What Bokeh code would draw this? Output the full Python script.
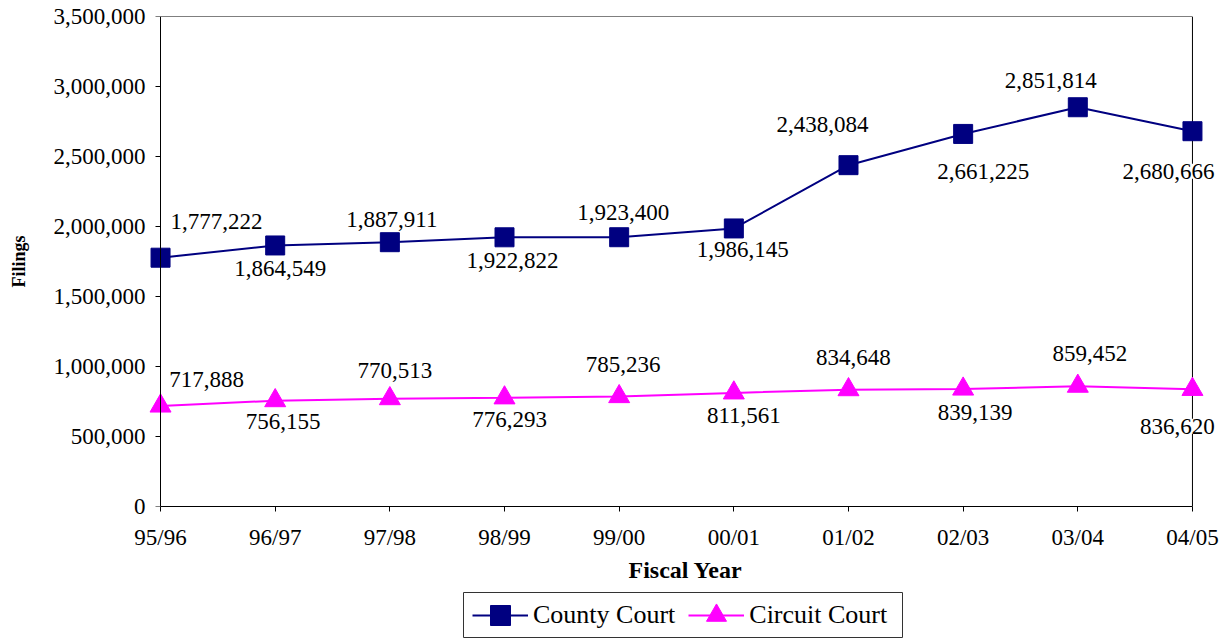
from bokeh.plotting import figure
from bokeh.models import (ColumnDataSource, Range1d, FixedTicker, NumeralTickFormatter,
                          LabelSet, Legend, LegendItem, LinearAxis, Span, Spacer)
from bokeh.layouts import column, row
from bokeh.embed import file_html
from bokeh.resources import INLINE

# ---- data ----
years = ["95/96", "96/97", "97/98", "98/99", "99/00", "00/01", "01/02", "02/03", "03/04", "04/05"]
county = [1777222, 1864549, 1887911, 1922822, 1923400, 1986145, 2438084, 2661225, 2851814, 2680666]
circuit = [717888, 756155, 770513, 776293, 785236, 811561, 834648, 839139, 859452, 836620]
y_ticks = [0, 500000, 1000000, 1500000, 2000000, 2500000, 3000000, 3500000]

# ---- label placement (screen px relative to the point; + is right / up) ----
county_dx = [56, 5, 2, 8, 4, 9, -26, 20, -27, -24]
county_dy = [36, -23, 23, -23, 25, -21, 41, -38, 27, -40]
circuit_dx = [46, 8, 5, 5, 4, 10, 5, 12, 12, -15]
circuit_dy = [26, -21, 28, -22, 32, -23, 32, -23, 33, -37]

SERIF = "Liberation Serif"
NAVY = "#000080"
MAGENTA = "#FF00FF"

idx = list(range(len(years)))
last = len(years) - 1
src_county = ColumnDataSource(dict(x=idx, y=county, lab=[f"{v:,}" for v in county],
                                   dx=county_dx, dy=county_dy))
src_circuit = ColumnDataSource(dict(x=idx, y=circuit, lab=[f"{v:,}" for v in circuit],
                                    dx=circuit_dx, dy=circuit_dy))

# frame is a little wider than the category span so edge markers / labels are not clipped
p = figure(width=1228, height=591, output_backend="svg", toolbar_location=None,
           x_range=Range1d(-0.105, last + 0.262), y_range=Range1d(0, y_ticks[-1]),
           min_border_left=148, min_border_right=6, min_border_top=16, min_border_bottom=85)
p.grid.visible = False
p.outline_line_color = None
p.background_fill_color = "white"
p.border_fill_color = "white"

# x axis (bottom)
p.xaxis.ticker = FixedTicker(ticks=idx)
p.xaxis.major_label_overrides = {i: y for i, y in enumerate(years)}
p.xaxis.bounds = (0, last)
p.xaxis.axis_line_color = "black"
p.xaxis.major_tick_line_color = "black"
p.xaxis.major_tick_in = 0
p.xaxis.major_tick_out = 5
p.xaxis.minor_tick_line_color = None
p.xaxis.major_label_text_font = SERIF
p.xaxis.major_label_text_font_size = "23px"
p.xaxis.major_label_text_color = "black"
p.xaxis.major_label_standoff = 13
p.xaxis.axis_label = "Fiscal Year"
p.xaxis.axis_label_text_font = SERIF
p.xaxis.axis_label_text_font_style = "bold"
p.xaxis.axis_label_text_font_size = "24px"
p.xaxis.axis_label_text_color = "black"
p.xaxis.axis_label_standoff = 4

# y axis labels (left panel, no line / ticks)
p.yaxis.ticker = FixedTicker(ticks=y_ticks)
p.yaxis.formatter = NumeralTickFormatter(format="0,0")
p.yaxis.axis_line_color = None
p.yaxis.major_tick_line_color = None
p.yaxis.major_tick_in = 0
p.yaxis.major_tick_out = 0
p.yaxis.minor_tick_line_color = None
p.yaxis.major_label_text_font = SERIF
p.yaxis.major_label_text_font_size = "23px"
p.yaxis.major_label_text_color = "black"
p.yaxis.major_label_standoff = 3
p.yaxis.axis_label = "Filings"
p.yaxis.axis_label_text_font = SERIF
p.yaxis.axis_label_text_font_style = "bold"
p.yaxis.axis_label_text_font_size = "18px"
p.yaxis.axis_label_text_color = "black"
p.yaxis.axis_label_standoff = 22

# y axis line + ticks at the first category
y_rule = LinearAxis(fixed_location=0, ticker=FixedTicker(ticks=y_ticks),
                    major_label_overrides={t: "" for t in y_ticks},
                    major_label_text_font_size="0px", major_label_standoff=0,
                    axis_line_color="black", axis_line_width=1,
                    major_tick_line_color="black", major_tick_in=5, major_tick_out=0,
                    minor_tick_line_color=None)
p.add_layout(y_rule, "right")

# top and right frame lines
top_ax = LinearAxis(ticker=FixedTicker(ticks=[]), bounds=(0, last),
                    axis_line_color="#7f7f7f", axis_line_width=1,
                    major_tick_line_color=None, minor_tick_line_color=None,
                    major_label_text_font_size="0px")
p.add_layout(top_ax, "above")
p.add_layout(Span(location=last, dimension="height", line_color="black",
                  line_width=1, level="underlay"))

# series
l_county = p.line("x", "y", source=src_county, line_color=NAVY, line_width=2)
s_county = p.scatter("x", "y", source=src_county, marker="square", size=19,
                     fill_color=NAVY, line_color=NAVY)
l_circuit = p.line("x", "y", source=src_circuit, line_color=MAGENTA, line_width=2)
s_circuit = p.scatter("x", "y", source=src_circuit, marker="triangle", size=21,
                      fill_color=MAGENTA, line_color=MAGENTA)

# data labels
for src in (src_county, src_circuit):
    p.add_layout(LabelSet(x="x", y="y", text="lab", source=src, x_offset="dx", y_offset="dy",
                          text_align="center", text_baseline="middle",
                          text_font=SERIF, text_font_size="23px", text_color="black",
                          background_fill_color="white"))

# ---- legend panel (own small figure, its outline is the legend box) ----
pl = figure(width=441, height=47, output_backend="svg", toolbar_location=None,
            x_range=Range1d(-100, -99), y_range=Range1d(-100, -99),
            x_axis_location=None, y_axis_location=None,
            min_border_left=1, min_border_right=1, min_border_top=1, min_border_bottom=1)
pl.grid.visible = False
pl.outline_line_color = "#333333"
pl.outline_line_width = 1
lc = pl.line(idx, county, line_color=NAVY, line_width=2)
sc = pl.scatter(idx, county, marker="square", fill_color=NAVY, line_color=NAVY)
lr = pl.line(idx, circuit, line_color=MAGENTA, line_width=2)
sr = pl.scatter(idx, circuit, marker="triangle", fill_color=MAGENTA, line_color=MAGENTA)
leg = Legend(items=[LegendItem(label="County Court", renderers=[lc, sc]),
                    LegendItem(label="Circuit Court", renderers=[lr, sr])],
             orientation="horizontal", location=(9, -2.5),
             padding=0, spacing=13, label_standoff=5, margin=0,
             glyph_width=56, glyph_height=50, label_height=50,
             label_text_font=SERIF, label_text_font_size="26px", label_text_color="black",
             border_line_color=None, background_fill_alpha=0)
pl.add_layout(leg, "center")

layout = column(p, row(Spacer(width=462, height=47), pl, spacing=0), spacing=0)

open("out.html", "w").write(file_html(layout, INLINE))
